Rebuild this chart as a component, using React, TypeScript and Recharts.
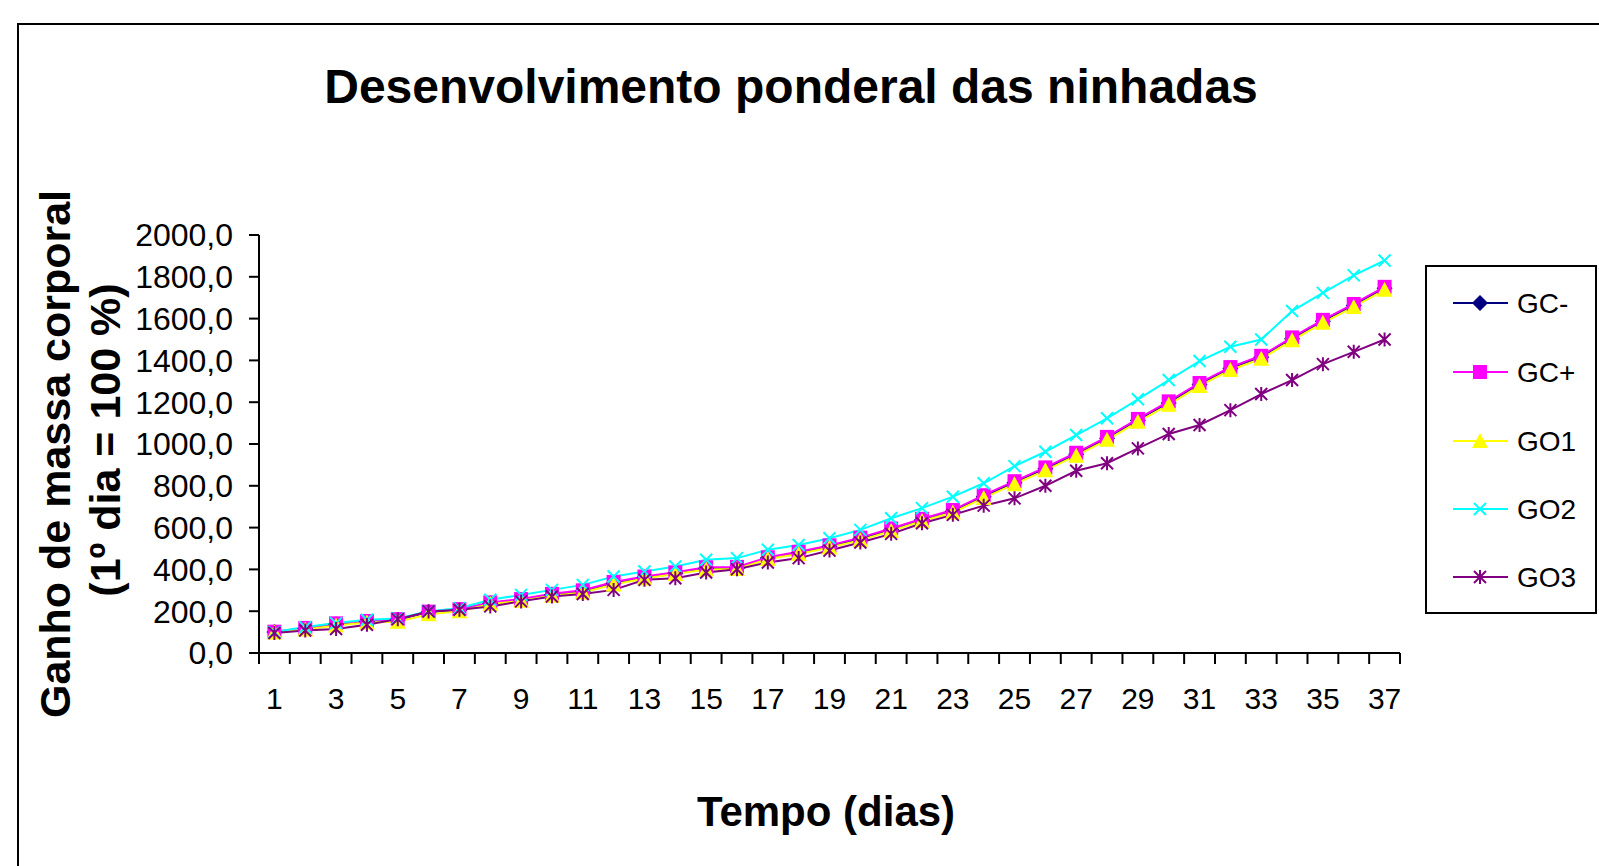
import React from "react";
import { LineChart, Line, XAxis, YAxis } from "recharts";

const FONT = '"Liberation Sans", Arial, sans-serif';

// days of the experiment (category axis)
const days = [
  1, 2, 3, 4, 5, 6, 7, 8, 9, 10, 11, 12, 13, 14, 15, 16, 17, 18, 19, 20, 21,
  22, 23, 24, 25, 26, 27, 28, 29, 30, 31, 32, 33, 34, 35, 36, 37,
];

// body mass gain, % of day 1
const gcMinus = [
  100, 116, 137, 150, 158, 196, 206, 238, 254, 279, 295, 334, 361, 382, 405,
  407, 454, 479, 510, 546, 590, 637, 678, 748, 815, 881, 951, 1027, 1113, 1196,
  1285, 1361, 1415, 1503, 1587, 1663, 1745,
];
const gcPlus = [
  102, 120, 142, 153, 162, 198, 210, 242, 258, 283, 300, 340, 366, 386, 410,
  412, 458, 484, 515, 552, 596, 642, 684, 755, 822, 888, 958, 1034, 1120, 1204,
  1292, 1368, 1422, 1510, 1594, 1670, 1752,
];
const go1 = [
  98, 112, 132, 146, 150, 185, 200, 234, 250, 274, 290, 328, 356, 378, 400,
  402, 450, 474, 505, 540, 584, 632, 672, 742, 808, 874, 944, 1020, 1106, 1188,
  1278, 1354, 1408, 1496, 1580, 1656, 1738,
];
const go2 = [
  100, 124, 143, 159, 165, 200, 214, 255, 278, 302, 326, 366, 390, 414, 446,
  454, 494, 517, 549, 589, 645, 693, 748, 812, 894, 963, 1043, 1123, 1214, 1306,
  1397, 1465, 1500, 1636, 1723, 1807, 1878,
];
const go3 = [
  96, 108, 115, 135, 162, 199, 207, 223, 247, 270, 282, 302, 350, 358, 385,
  401, 433, 454, 490, 529, 570, 621, 661, 705, 740, 800, 872, 908, 979, 1048,
  1091, 1162, 1239, 1306, 1382, 1441, 1500,
];

const yTicks = [0, 200, 400, 600, 800, 1000, 1200, 1400, 1600, 1800, 2000];
const xLabelTicks = [1, 3, 5, 7, 9, 11, 13, 15, 17, 19, 21, 23, 25, 27, 29, 31, 33, 35, 37];
// tick marks sit between categories, Excel style
const xBoundTicks = [...days.map((d) => d - 0.5), days[days.length - 1] + 0.5];

const data = days.map((day, i) => ({
  day,
  gcMinus: gcMinus[i],
  gcPlus: gcPlus[i],
  go1: go1[i],
  go2: go2[i],
  go3: go3[i],
}));

type Shape = "diamond" | "square" | "triangle" | "x" | "star";

const series: { key: string; name: string; color: string; shape: Shape }[] = [
  { key: "gcMinus", name: "GC-", color: "#000080", shape: "diamond" },
  { key: "gcPlus", name: "GC+", color: "#FF00FF", shape: "square" },
  { key: "go1", name: "GO1", color: "#FFFF00", shape: "triangle" },
  { key: "go2", name: "GO2", color: "#00FFFF", shape: "x" },
  { key: "go3", name: "GO3", color: "#800080", shape: "star" },
];

const Marker = ({ cx, cy, shape, color }: { cx: number; cy: number; shape: Shape; color: string }) => {
  if (cx == null || cy == null) return null;
  switch (shape) {
    case "diamond":
      return <path d={`M${cx},${cy - 8}L${cx + 8},${cy}L${cx},${cy + 8}L${cx - 8},${cy}Z`} fill={color} />;
    case "square":
      return <rect x={cx - 7} y={cy - 7} width={14} height={14} fill={color} />;
    case "triangle":
      return <path d={`M${cx},${cy - 8}L${cx + 8},${cy + 7}L${cx - 8},${cy + 7}Z`} fill={color} />;
    case "x":
      return (
        <path
          d={`M${cx - 6},${cy - 6}L${cx + 6},${cy + 6}M${cx + 6},${cy - 6}L${cx - 6},${cy + 6}`}
          stroke={color}
          strokeWidth={2}
        />
      );
    default:
      return (
        <path
          d={`M${cx - 6},${cy - 6}L${cx + 6},${cy + 6}M${cx + 6},${cy - 6}L${cx - 6},${cy + 6}M${cx},${cy - 7}L${cx},${cy + 7}`}
          stroke={color}
          strokeWidth={2}
        />
      );
  }
};

const makeDot = (shape: Shape, color: string) => (props: any) => (
  <Marker key={`${shape}-${props.index}`} cx={props.cx} cy={props.cy} shape={shape} color={color} />
);

const fmt = (v: number) => v.toFixed(1).replace(".", ",");

const legendRows = [303, 372, 441, 509, 577];

export default function App() {
  return (
    <div style={{ position: "absolute", left: 0, top: 0, width: 1599, height: 866, overflow: "hidden", background: "#fff" }}>
      <LineChart
        width={1599}
        height={866}
        data={data}
        margin={{ top: 235, right: 199, bottom: 153, left: 139 }}
      >
        <XAxis
          xAxisId="bounds"
          type="number"
          dataKey="day"
          domain={[0.5, 37.5]}
          allowDataOverflow
          ticks={xBoundTicks}
          interval={0}
          tickFormatter={() => ""}
          tick={{ fontSize: 1 }}
          tickSize={11}
          height={1}
          axisLine={{ stroke: "#000", strokeWidth: 2 }}
          tickLine={{ stroke: "#000", strokeWidth: 2 }}
        />
        <XAxis
          xAxisId="labels"
          type="number"
          dataKey="day"
          domain={[0.5, 37.5]}
          allowDataOverflow
          ticks={xLabelTicks}
          interval={0}
          axisLine={false}
          tickLine={false}
          tickSize={6}
          tickMargin={28}
          height={59}
          tick={{ fill: "#000", fontSize: 30, fontFamily: FONT }}
        />
        <YAxis
          domain={[0, 2000]}
          ticks={yTicks}
          interval={0}
          tickFormatter={fmt}
          width={120}
          tickSize={10}
          tickMargin={16}
          axisLine={{ stroke: "#000", strokeWidth: 2 }}
          tickLine={{ stroke: "#000", strokeWidth: 2 }}
          tick={{ fill: "#000", fontSize: 32, fontFamily: FONT }}
        />
        {series.map((s) => (
          <Line
            key={s.key}
            xAxisId="bounds"
            dataKey={s.key}
            name={s.name}
            type="linear"
            stroke={s.color}
            strokeWidth={2}
            dot={makeDot(s.shape, s.color)}
            isAnimationActive={false}
          />
        ))}
      </LineChart>

      <svg
        width={1599}
        height={866}
        style={{ position: "absolute", left: 0, top: 0, pointerEvents: "none" }}
        fontFamily={FONT}
      >
        <rect x={18} y={24} width={1700} height={1000} fill="none" stroke="#000" strokeWidth={2} />
        <text x={791} y={103} textAnchor="middle" fontSize={48} fontWeight="bold">
          Desenvolvimento ponderal das ninhadas
        </text>
        <text x={826} y={826} textAnchor="middle" fontSize={42} fontWeight="bold">
          Tempo (dias)
        </text>
        <text x={70} y={454} transform="rotate(-90 70 454)" textAnchor="middle" fontSize={43} fontWeight="bold">
          Ganho de massa corporal
        </text>
        <text x={120} y={440} transform="rotate(-90 120 440)" textAnchor="middle" fontSize={43} fontWeight="bold">
          (1º dia = 100 %)
        </text>

        <rect x={1426} y={266} width={170} height={347} fill="#fff" stroke="#000" strokeWidth={2} />
        {series.map((s, i) => (
          <g key={s.key}>
            <line x1={1453} x2={1508} y1={legendRows[i]} y2={legendRows[i]} stroke={s.color} strokeWidth={2} />
            <Marker cx={1480} cy={legendRows[i]} shape={s.shape} color={s.color} />
            <text x={1517} y={legendRows[i] + 10} fontSize={28}>
              {s.name}
            </text>
          </g>
        ))}
      </svg>
    </div>
  );
}
